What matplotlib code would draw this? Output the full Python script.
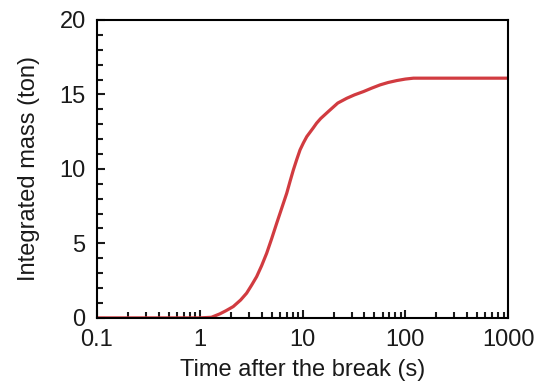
import matplotlib
matplotlib.use('Agg')
import matplotlib.pyplot as plt
from matplotlib.ticker import LogLocator, MultipleLocator, FixedLocator, NullFormatter

plt.rcParams['font.family'] = ['Liberation Sans', 'DejaVu Sans']

# data
time_s = [0.1, 1.0, 1.3, 1.57, 1.8, 2.12, 2.5, 2.86, 3.2, 3.58, 4.0, 4.48, 5.0,
          5.61, 6.3, 7.02, 7.55, 8.14, 8.8, 9.46, 10.2, 11.0, 12.7, 13.7, 15.0,
          17.8, 22.0, 26.9, 32.0, 39.1, 47.0, 56.8, 68.0, 82.5, 100.0, 119.8, 1000.0]
mass_ton = [0.0, 0.0, 0.04, 0.27, 0.48, 0.76, 1.2, 1.66, 2.2, 2.77, 3.5, 4.34, 5.3,
            6.36, 7.4, 8.37, 9.15, 9.93, 10.65, 11.28, 11.75, 12.17, 12.75, 13.07, 13.38,
            13.85, 14.42, 14.74, 14.97, 15.19, 15.42, 15.64, 15.8, 15.93, 16.03, 16.09, 16.09]
xticks = [0.1, 1, 10, 100, 1000]
xticklabels = ['0.1', '1', '10', '100', '1000']

fig = plt.figure(figsize=(5.35, 3.83), dpi=100)
ax = fig.add_axes([0.181, 0.170, 0.769, 0.778])

ax.plot(time_s, mass_ton, color='#d13b40', lw=2.3, solid_joinstyle='round')

ax.set_xscale('log')
ax.set_xlim(0.1, 1000)
ax.set_ylim(0, 20)
ax.xaxis.set_major_locator(FixedLocator(xticks))
ax.set_xticklabels(xticklabels)
ax.xaxis.set_minor_locator(LogLocator(base=10, subs=range(2, 10)))
ax.xaxis.set_minor_formatter(NullFormatter())
ax.yaxis.set_major_locator(MultipleLocator(5))
ax.yaxis.set_minor_locator(MultipleLocator(1))

for s in ax.spines.values():
    s.set_linewidth(1.5)
ax.tick_params(which='both', direction='in', top=False, right=False, width=1.5,
               labelsize=17, pad=8, colors='#1a1a1a')
ax.tick_params(which='major', length=6)
ax.tick_params(which='minor', length=4.5)

ax.set_xlabel('Time after the break (s)', fontsize=17, labelpad=6, color='#1a1a1a')
ax.set_ylabel('Integrated mass (ton)', fontsize=17, labelpad=14, color='#1a1a1a')

fig.savefig('out.png', dpi=100)
